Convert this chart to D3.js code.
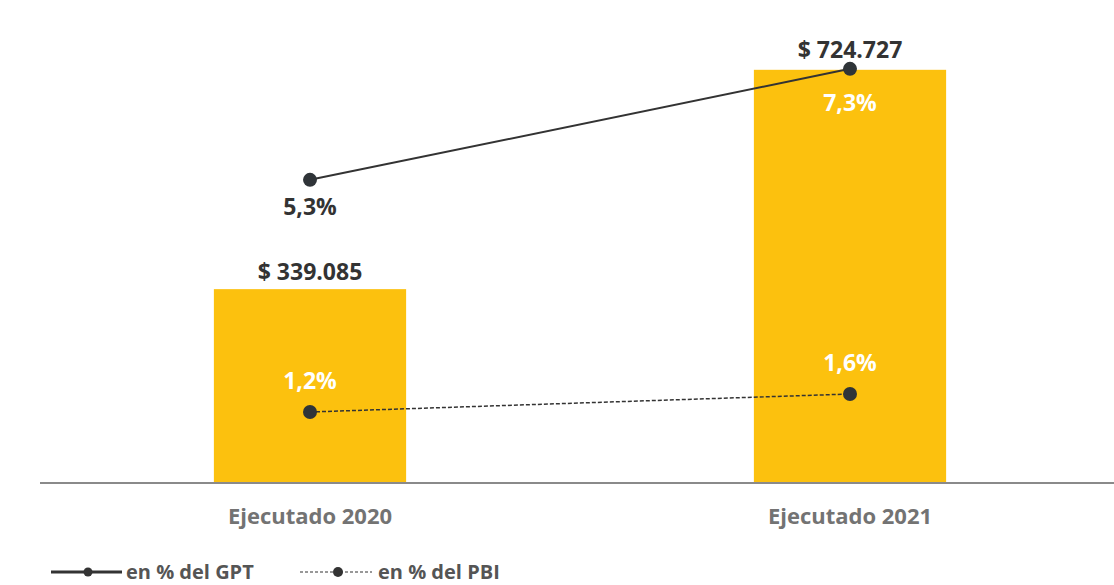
<!DOCTYPE html>
<html>
<head>
<meta charset="utf-8">
<script src="https://cdn.jsdelivr.net/npm/d3@7"></script>
<style>
  body { margin: 0; background: #fff; }
  text { font-family: "Open Sans", sans-serif; font-weight: bold; }
</style>
</head>
<body>
<svg id="root"></svg>
<script>
var width = 1114,
    height = 585;

// data
var categories = ['Ejecutado 2020', 'Ejecutado 2021'];
var amounts = [339085, 724727];
var amountLabels = ['$ 339.085', '$ 724.727'];
var pctGPT = [5.3, 7.3];
var pctPBI = [1.2, 1.6];
var legendLabels = ['en % del GPT', 'en % del PBI'];

var fmtPct = function(v) { return v.toFixed(1).replace('.', ',') + '%'; };

var root = d3.select('#root')
    .attr('width', width)
    .attr('height', height);

var baseY = 482;

var x = d3.scaleBand()
    .domain(categories)
    .range([40, 1120])
    .paddingInner(0.644)
    .paddingOuter(0.322);

var y = d3.scaleLinear().domain([0, 800000]).range([baseY, 27]);
var yGPT = d3.scaleLinear().domain([0, 8]).range([474, 30]);
var yPBI = d3.scaleLinear().domain([0, 10]).range([466, 16]);

var cx = function(i) { return x(categories[i]) + x.bandwidth() / 2; };

// bars
root.selectAll('.bar')
    .data(amounts)
    .enter()
        .append('rect')
        .attr('class', 'bar')
        .attr('x', function(d, i) { return x(categories[i]); })
        .attr('y', function(d) { return y(d); })
        .attr('width', x.bandwidth())
        .attr('height', function(d) { return baseY - y(d); })
        .attr('fill', '#FCC10E');

// baseline
root.append('line')
    .attr('x1', 40).attr('x2', width)
    .attr('y1', baseY + 1).attr('y2', baseY + 1)
    .attr('stroke', '#8a8a8a')
    .attr('stroke-width', 2);

// category labels
root.selectAll('.cat')
    .data(categories)
    .enter()
        .append('text')
        .attr('class', 'cat')
        .attr('x', function(d, i) { return cx(i); })
        .attr('y', 524)
        .attr('text-anchor', 'middle')
        .attr('font-size', 22)
        .attr('fill', '#737373')
        .text(function(d) { return d; });

// amount labels
var amtDy = [9, 12];
root.selectAll('.amt')
    .data(amounts)
    .enter()
        .append('text')
        .attr('class', 'amt')
        .attr('x', function(d, i) { return cx(i); })
        .attr('y', function(d, i) { return y(d) - amtDy[i]; })
        .attr('text-anchor', 'middle')
        .attr('font-size', 23)
        .attr('fill', '#333')
        .text(function(d, i) { return amountLabels[i]; });

// lines
var lineGPT = d3.line()
    .x(function(d, i) { return cx(i); })
    .y(function(d) { return yGPT(d); });
var linePBI = d3.line()
    .x(function(d, i) { return cx(i); })
    .y(function(d) { return yPBI(d); });

root.append('path')
    .attr('d', lineGPT(pctGPT))
    .attr('fill', 'none')
    .attr('stroke', '#333')
    .attr('stroke-width', 2);

root.append('path')
    .attr('d', linePBI(pctPBI))
    .attr('fill', 'none')
    .attr('stroke', '#333')
    .attr('stroke-width', 1.5)
    .attr('stroke-dasharray', '4,2');

root.selectAll('.dotG')
    .data(pctGPT)
    .enter()
        .append('circle')
        .attr('cx', function(d, i) { return cx(i); })
        .attr('cy', function(d) { return yGPT(d); })
        .attr('r', 7)
        .attr('fill', '#2f3438');

root.selectAll('.dotP')
    .data(pctPBI)
    .enter()
        .append('circle')
        .attr('cx', function(d, i) { return cx(i); })
        .attr('cy', function(d) { return yPBI(d); })
        .attr('r', 7)
        .attr('fill', '#2f3438');

// percent labels
var gptLabelDy = [35, 42];
var gptLabelFill = ['#333', '#fff'];
root.selectAll('.lblG')
    .data(pctGPT)
    .enter()
        .append('text')
        .attr('x', function(d, i) { return cx(i); })
        .attr('y', function(d, i) { return yGPT(d) + gptLabelDy[i]; })
        .attr('text-anchor', 'middle')
        .attr('font-size', 23)
        .attr('fill', function(d, i) { return gptLabelFill[i]; })
        .text(fmtPct);

root.selectAll('.lblP')
    .data(pctPBI)
    .enter()
        .append('text')
        .attr('x', function(d, i) { return cx(i); })
        .attr('y', function(d) { return yPBI(d) - 23; })
        .attr('text-anchor', 'middle')
        .attr('font-size', 23)
        .attr('fill', '#fff')
        .text(fmtPct);

// legend
var legend = root.append('g').attr('transform', 'translate(0,572)');
legend.append('line')
    .attr('x1', 51).attr('x2', 122).attr('y1', 0).attr('y2', 0)
    .attr('stroke', '#333').attr('stroke-width', 3);
legend.append('circle').attr('cx', 88).attr('cy', 0).attr('r', 4.5).attr('fill', '#333');
legend.append('text')
    .attr('x', 126).attr('y', 7)
    .attr('font-size', 20).attr('fill', '#555')
    .text(legendLabels[0]);

legend.append('line')
    .attr('x1', 300).attr('x2', 372).attr('y1', 0).attr('y2', 0)
    .attr('stroke', '#333').attr('stroke-width', 1.2)
    .attr('stroke-dasharray', '3,2');
legend.append('circle').attr('cx', 338).attr('cy', 0).attr('r', 5).attr('fill', '#333');
legend.append('text')
    .attr('x', 378).attr('y', 7)
    .attr('font-size', 20).attr('fill', '#555')
    .text(legendLabels[1]);
</script>
</body>
</html>
